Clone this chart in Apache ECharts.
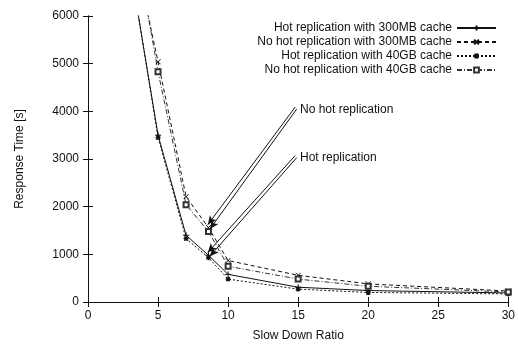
<!DOCTYPE html>
<html>
<head>
<meta charset="utf-8">
<script src="https://cdn.jsdelivr.net/npm/echarts@6/dist/echarts.min.js"></script>
<style>
html, body { margin: 0; padding: 0; background: #fff; }
#chart { width: 518px; height: 347px; }
</style>
</head>
<body>
<div id="chart"></div>
<script>
// slow down ratios (first point sits above the plot and is clipped)
const ratios = [3, 5, 7, 8.6, 10, 15, 20, 30];
const hot300 = [7070, 3500, 1400, 980, 580, 310, 240, 190];
const noHot300 = [7780, 5040, 2210, 1560, 870, 560, 380, 230];
const hot40 = [7090, 3450, 1330, 930, 480, 270, 200, 170];
const noHot40 = [8170, 4830, 2040, 1480, 750, 480, 330, 210];
const seriesNames = [
  'Hot replication with 300MB cache',
  'No hot replication with 300MB cache',
  'Hot replication with 40GB cache',
  'No hot replication with 40GB cache'
];

const font = '"Liberation Sans", Arial, sans-serif';
const ink = '#111';

function pairs(vals) {
  return ratios.map((x, i) => [x, vals[i]]);
}

const plusSym = 'path://M0,5L10,5M5,0L5,10';
const crossSym = 'path://M0,0L10,10M10,0L0,10';
const starSym = 'path://M0,5L10,5M5,0L5,10M1,1L9,9M9,1L1,9';

function arrow(from, to) {
  return [{ coord: from }, { coord: to }];
}

const chart = echarts.init(document.getElementById('chart'));
chart.setOption({
  animation: false,
  textStyle: { fontFamily: font },
  grid: { left: 88, right: 6, top: 16, bottom: 42 },
  legend: {
    orient: 'vertical',
    right: 16,
    top: 17,
    align: 'right',
    itemWidth: 39,
    itemHeight: 6,
    itemGap: 2,
    textStyle: { fontFamily: font, fontSize: 12, lineHeight: 12, color: ink },
    data: seriesNames
  },
  xAxis: [{
    type: 'value', min: 0, max: 30, interval: 5,
    name: 'Slow Down Ratio', nameLocation: 'middle', nameGap: 28,
    nameTextStyle: { fontFamily: font, fontSize: 12, color: ink },
    axisLine: { lineStyle: { color: ink, width: 1 } },
    axisTick: { inside: true, length: 5, lineStyle: { color: ink } },
    axisLabel: { fontFamily: font, fontSize: 12, color: ink, margin: 8 },
    splitLine: { show: false }
  }, {
    type: 'value', min: 0, max: 30, interval: 5, position: 'top',
    axisLine: { lineStyle: { color: ink, width: 1 } },
    axisTick: { inside: true, length: 5, lineStyle: { color: ink } },
    axisLabel: { show: false },
    splitLine: { show: false }
  }],
  yAxis: [{
    type: 'value', min: 0, max: 6000, interval: 1000,
    name: 'Response Time [s]', nameLocation: 'middle', nameGap: 62,
    nameTextStyle: { fontFamily: font, fontSize: 12, color: ink },
    axisLine: { show: true, lineStyle: { color: ink, width: 1 } },
    axisTick: { show: true, inside: true, length: 5, lineStyle: { color: ink } },
    axisLabel: { fontFamily: font, fontSize: 12, color: ink, margin: 9, formatter: v => String(v) },
    splitLine: { show: false }
  }, {
    type: 'value', min: 0, max: 6000, interval: 1000, position: 'right',
    axisLine: { show: true, lineStyle: { color: ink, width: 1 } },
    axisTick: { show: true, inside: true, length: 5, lineStyle: { color: ink } },
    axisLabel: { show: false },
    splitLine: { show: false }
  }],
  graphic: [
    { type: 'text', left: 300, top: 104, style: { text: 'No hot replication', font: '12px ' + font, fill: ink } },
    { type: 'text', left: 300, top: 152, style: { text: 'Hot replication', font: '12px ' + font, fill: ink } }
  ],
  series: [{
    name: seriesNames[0], type: 'line', data: pairs(hot300),
    symbol: plusSym, symbolSize: 6, showAllSymbol: true,
    lineStyle: { color: ink, width: 1, type: 'solid' },
    itemStyle: { color: ink, borderColor: ink, borderWidth: 1 },
    markLine: {
      silent: true, symbol: ['none', 'arrow'], symbolSize: [6, 9],
      lineStyle: { color: ink, width: 1, type: 'solid' },
      label: { show: false },
      data: [
        arrow([14.79, 3073], [8.55, 1040]),
        arrow([14.9, 3030], [8.7, 960]),
        arrow([14.79, 4090], [8.55, 1620]),
        arrow([14.9, 4050], [8.7, 1530])
      ]
    }
  }, {
    name: seriesNames[1], type: 'line', data: pairs(noHot300),
    symbol: crossSym, symbolSize: 5, showAllSymbol: true,
    lineStyle: { color: ink, width: 1, type: [4, 3] },
    itemStyle: { color: ink, borderColor: ink, borderWidth: 1 }
  }, {
    name: seriesNames[2], type: 'line', data: pairs(hot40),
    symbol: starSym, symbolSize: 5, showAllSymbol: true,
    lineStyle: { color: ink, width: 1, type: [2, 2] },
    itemStyle: { color: ink, borderColor: ink, borderWidth: 1.2 }
  }, {
    name: seriesNames[3], type: 'line', data: pairs(noHot40),
    symbol: 'emptyRect', symbolSize: 5, showAllSymbol: true,
    lineStyle: { color: '#333', width: 1, type: [5, 2, 1, 2] },
    itemStyle: { color: '#333', borderColor: '#333', borderWidth: 1 }
  }]
});
</script>
</body>
</html>
